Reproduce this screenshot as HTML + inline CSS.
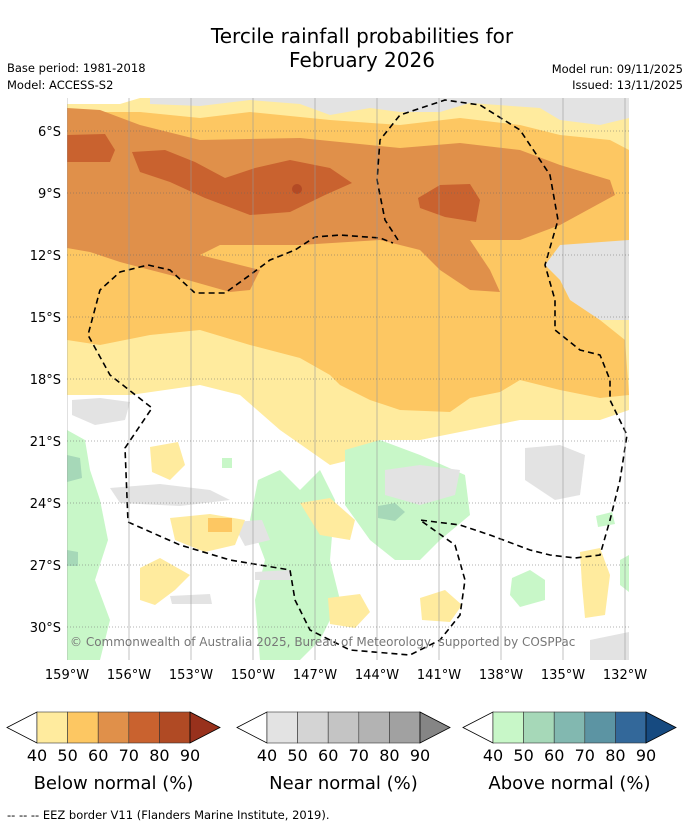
<!DOCTYPE html>
<html><head><meta charset="utf-8">
<style>
body{margin:0;background:#fff;font-family:"Liberation Sans","DejaVu Sans",sans-serif;}
svg text{font-family:"DejaVu Sans","Liberation Sans",sans-serif;}
</style></head>
<body>
<svg id="chart" width="690" height="827" xmlns="http://www.w3.org/2000/svg">
<text x="362" y="43" font-size="20" text-anchor="middle">Tercile rainfall probabilities for</text>
<text x="362" y="67" font-size="20" text-anchor="middle">February 2026</text>
<text x="7" y="72" font-size="11.5">Base period: 1981-2018</text>
<text x="7" y="89" font-size="11.5">Model: ACCESS-S2</text>
<text x="683" y="73" font-size="11.5" text-anchor="end">Model run: 09/11/2025</text>
<text x="683" y="89" font-size="11.5" text-anchor="end">Issued: 13/11/2025</text>
<defs><clipPath id="mc"><rect x="67" y="98" width="562" height="562"/></clipPath></defs>
<g clip-path="url(#mc)">
<rect x="67" y="98" width="562" height="562" fill="#fff"/>
<g fill="#e3e3e3">
<path d="M67,98 L629,98 L629,240 L545,250 L540,290 L590,335 L629,330 L629,98 Z"/>
</g>
<path fill="#ffeb9e" d="M67,104 L120,104 L140,98 L629,98 L629,410 L600,420 L520,420 L470,430 L420,440 L380,440 L350,460 L330,465 L280,430 L240,395 L200,385 L130,395 L67,395 Z"/>
<path fill="#e3e3e3" d="M150,98 L629,98 L629,118 L600,125 L560,120 L540,108 L470,103 L440,112 L400,112 L370,108 L330,115 L300,104 L250,100 L200,106 L150,104 Z"/>
<path fill="#e3e3e3" d="M629,235 L600,240 L560,245 L545,265 L560,280 L570,300 L590,320 L629,320 Z"/>
<path fill="#fdc762" d="M67,112 L140,112 L200,118 L250,112 L330,120 L400,125 L460,118 L520,125 L560,135 L610,140 L629,150 L629,240 L560,245 L545,265 L560,280 L570,300 L600,320 L625,340 L629,395 L600,398 L560,390 L520,380 L500,392 L470,398 L450,412 L400,410 L370,400 L340,385 L330,375 L300,358 L250,345 L200,330 L150,335 L100,345 L67,340 Z"/>
<path fill="#e0904a" d="M67,108 L100,110 L140,125 L200,140 L300,138 L400,148 L460,143 L520,150 L560,165 L610,180 L615,195 L560,225 L520,240 L470,240 L490,270 L500,292 L470,290 L440,270 L420,250 L380,240 L300,245 L220,245 L200,255 L260,270 L250,290 L230,292 L170,275 L120,262 L90,252 L67,248 Z"/>
<path fill="#c9622f" d="M67,135 L105,134 L115,150 L110,162 L67,162 Z"/>
<path fill="#c9622f" d="M132,152 L165,150 L195,162 L225,178 L255,168 L290,160 L330,168 L352,183 L325,195 L290,212 L250,215 L205,198 L170,182 L140,172 Z"/>
<path fill="#c9622f" d="M418,198 L440,185 L470,184 L480,200 L476,222 L445,217 L420,208 Z"/>
<circle cx="297" cy="189" r="5" fill="#b34a25"/>
<g fill="#c8f7c8">
<path d="M67,430 L85,440 L90,470 L100,500 L108,540 L95,580 L110,620 L100,660 L67,660 Z"/>
<path d="M258,480 L280,470 L300,490 L320,470 L335,500 L330,560 L340,600 L320,640 L300,660 L260,660 L255,600 L265,560 L250,520 Z"/>
<path d="M345,450 L380,440 L420,455 L465,475 L470,515 L440,540 L420,560 L395,560 L370,540 L345,505 Z"/>
<path d="M512,578 L530,570 L545,580 L545,600 L520,607 L510,595 Z"/>
<path d="M596,516 L612,512 L615,524 L598,527 Z"/>
<path d="M620,560 L629,555 L629,592 L620,585 Z"/>
<path d="M222,458 L232,458 L232,468 L222,468 Z"/>
</g>
<g fill="#a6d8b8">
<path d="M67,455 L80,458 L82,478 L67,482 Z"/>
<path d="M378,506 L395,503 L405,512 L395,521 L378,518 Z"/>
<path d="M67,550 L78,552 L78,566 L67,566 Z"/>
</g>
<g fill="#e3e3e3">
<path d="M72,400 L100,398 L130,402 L125,420 L95,425 L72,415 Z"/>
<path d="M385,470 L420,465 L460,470 L455,495 L420,505 L385,495 Z"/>
<path d="M110,488 L160,484 L210,490 L230,500 L180,506 L120,503 Z"/>
<path d="M525,448 L560,445 L585,455 L580,495 L555,500 L525,480 Z"/>
<path d="M232,522 L262,520 L270,540 L245,546 Z"/>
<path d="M170,596 L210,594 L212,604 L172,604 Z"/>
<path d="M590,640 L629,632 L629,660 L590,660 Z"/>
<path d="M255,572 L290,570 L290,580 L255,580 Z"/>
</g>
<g fill="#ffeb9e">
<path d="M150,447 L178,442 L185,465 L170,480 L152,472 Z"/>
<path d="M300,503 L330,498 L355,520 L350,540 L320,535 Z"/>
<path d="M170,518 L210,514 L245,520 L235,545 L205,552 L175,540 Z"/>
<path d="M140,568 L160,558 L190,575 L175,590 L155,605 L140,600 Z"/>
<path d="M328,598 L360,594 L370,612 L355,628 L330,624 Z"/>
<path d="M420,598 L445,590 L462,605 L450,622 L422,620 Z"/>
<path d="M580,552 L600,548 L610,575 L605,615 L585,618 L582,585 Z"/>
</g>
<path d="M208,518 L232,518 L232,532 L208,532 Z" fill="#fdc762"/>
<path fill="none" stroke="#000" stroke-width="1.6" stroke-dasharray="6,4" d="M398,240 L385,220 L377,180 L380,140 L400,115 L445,100 L480,105 L520,130 L550,175 L558,220 L545,265 L555,300 L555,330 L580,350 L600,355 L610,380 L610,400 L627,435 L620,480 L610,520 L600,555 L575,558 L550,555 L530,550 L490,535 L460,525 L420,520 L455,545 L465,580 L460,615 L440,640 L410,655 L350,650 L310,630 L295,600 L290,570 L230,560 L180,545 L128,522 L125,448 L152,408 L110,375 L88,335 L100,290 L120,272 L148,265 L170,270 L195,293 L225,293 L250,275 L270,260 L295,250 L315,237 L340,235 L380,238 L393,243"/>
<g id="grid"></g>
<text x="70" y="646" font-size="12" fill="#777">© Commonwealth of Australia 2025, Bureau of Meteorology, supported by COSPPac</text>
</g>
<g id="axes"></g>
<g id="cbars"></g>
<text x="7" y="819" font-size="11.5">--  --  -- EEZ border V11 (Flanders Marine Institute, 2019).</text>
</svg>
<script>
const latTicks = [6, 9, 12, 15, 18, 21, 24, 27, 30];
const lonTicks = [159, 156, 153, 150, 147, 144, 141, 138, 135, 132];
const cbTicks = [40, 50, 60, 70, 80, 90];
const belowColors = ["#ffeb9e", "#fdc762", "#e0904a", "#c9622f", "#b04a24", "#98311c"];
const nearColors = ["#e3e3e3", "#d4d4d4", "#c4c4c4", "#b3b3b3", "#a1a1a1", "#858585"];
const aboveColors = ["#c8f7c8", "#a6d8b8", "#82b8b0", "#5c94a3", "#33689a", "#164a80"];
const cbTitles = ["Below normal (%)", "Near normal (%)", "Above normal (%)"];
const cbStarts = [7, 237, 463];

const NS = "http://www.w3.org/2000/svg";
const x = lon => 67 + (159 - lon) * (558 / 27);
const y = lat => 131 + (lat - 6) * (496 / 24);
function mk(tag, attrs, parent) { const e = document.createElementNS(NS, tag); for (const k in attrs) e.setAttribute(k, attrs[k]); parent.appendChild(e); return e; }
const grid = document.getElementById('grid'), axes = document.getElementById('axes');
lonTicks.forEach(l => {
  const ln = mk('line', {x1: x(l), x2: x(l), y1: 98, y2: 660, stroke: '#999', 'stroke-width': 0.6}, grid);
  
  
  const t = mk('text', {x: x(l), y: 679, 'font-size': 13, 'text-anchor': 'middle'}, axes);
  t.textContent = l + '°W';
  
  
});
latTicks.forEach(l => {
  const ln = mk('line', {x1: 67, x2: 629, y1: y(l), y2: y(l), stroke: '#666', 'stroke-width': 0.6, 'stroke-dasharray': '1,2'}, grid);
  
  
  const t = mk('text', {x: 61, y: y(l) + 5, 'font-size': 13, 'text-anchor': 'end'}, axes);
  t.textContent = l + '°S';
  
  
});
const cb = document.getElementById('cbars');
[belowColors, nearColors, aboveColors].forEach((cols, i) => {
  const x0 = cbStarts[i], bx = x0 + 30, w = 30.6, top = 712, bot = 743, mid = 727.5;
  const left = mk('polygon', {points: `${x0},${mid} ${bx},${top} ${bx},${bot}`, fill: '#fff', stroke: '#000', 'stroke-width': 0.8}, cb);
  
  
  for (let k = 0; k < 5; k++) {
    const r = mk('rect', {x: bx + k * w, y: top, width: w, height: bot - top, fill: cols[k], stroke: '#333', 'stroke-width': 0.6}, cb);
    
    
  }
  const ex = bx + 5 * w;
  const right = mk('polygon', {points: `${ex},${top} ${ex + 30},${mid} ${ex},${bot}`, fill: cols[5], stroke: '#000', 'stroke-width': 0.8}, cb);
  
  
  cbTicks.forEach((v, k) => {
    const t = mk('text', {x: bx + k * w, y: 761, 'font-size': 16, 'text-anchor': 'middle'}, cb);
    t.textContent = v;
    
    
  });
  const tt = mk('text', {x: bx + 2.5 * w, y: 789, 'font-size': 18, 'text-anchor': 'middle'}, cb);
  tt.textContent = cbTitles[i];
  
  
});
</script>
</body></html>
